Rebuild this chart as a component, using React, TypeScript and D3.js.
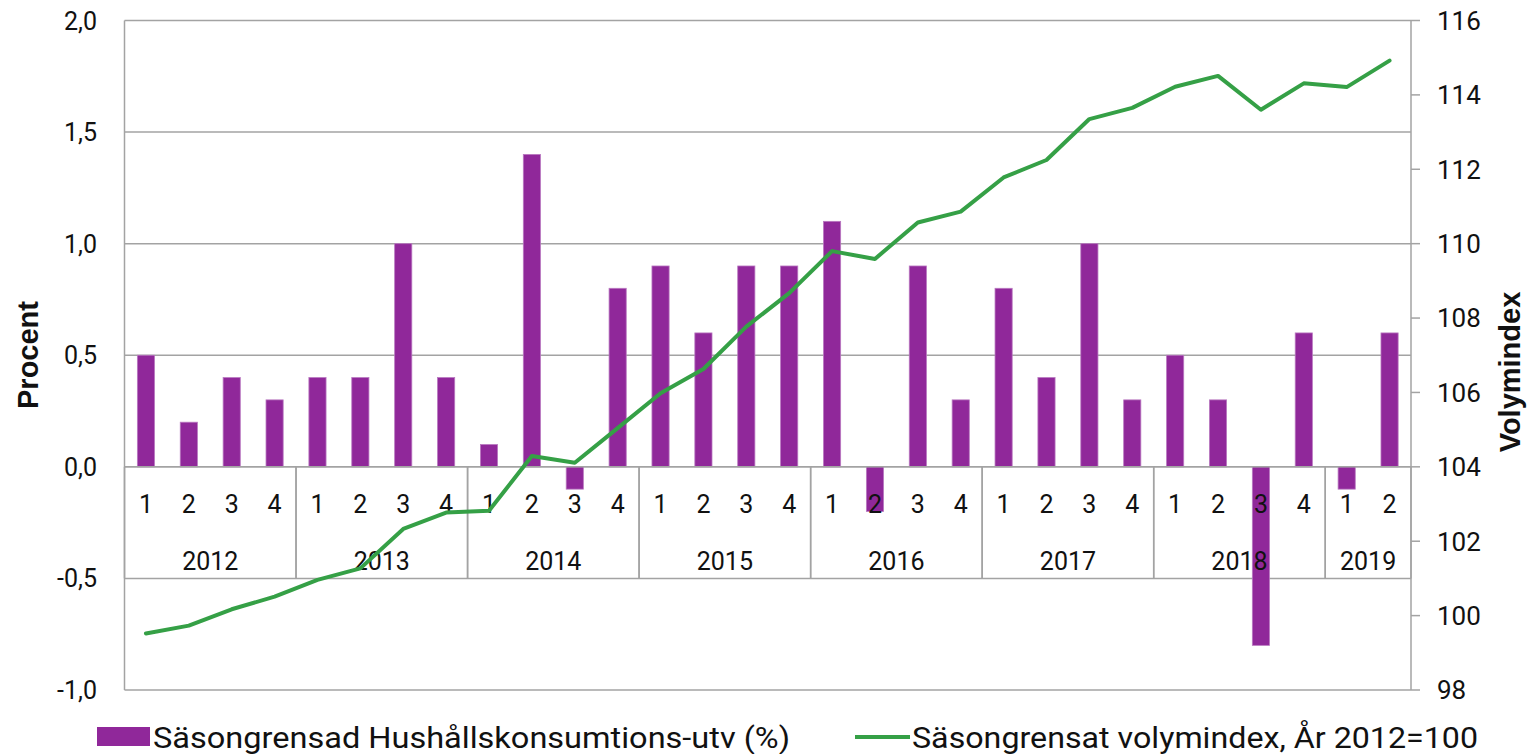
import React from "react";
import * as d3 from "d3";

const categoryYears = [
  "2012","2012","2012","2012",
  "2013","2013","2013","2013",
  "2014","2014","2014","2014",
  "2015","2015","2015","2015",
  "2016","2016","2016","2016",
  "2017","2017","2017","2017",
  "2018","2018","2018","2018",
  "2019","2019",
];
const categoryQuarters = [
  "1","2","3","4","1","2","3","4","1","2","3","4","1","2","3","4",
  "1","2","3","4","1","2","3","4","1","2","3","4","1","2",
];
const consumptionGrowth = [
  0.5, 0.2, 0.4, 0.3, 0.4, 0.4, 1.0, 0.4, 0.1, 1.4, -0.1, 0.8, 0.9, 0.6, 0.9,
  0.9, 1.1, -0.2, 0.9, 0.3, 0.8, 0.4, 1.0, 0.3, 0.5, 0.3, -0.8, 0.6, -0.1, 0.6,
];
const volumeIndex = [
  99.52, 99.73, 100.17, 100.51, 100.96, 101.27, 102.33, 102.77, 102.82, 104.29,
  104.11, 105.04, 105.98, 106.63, 107.77, 108.67, 109.8, 109.59, 110.57, 110.86,
  111.78, 112.25, 113.35, 113.65, 114.22, 114.51, 113.6, 114.31, 114.21, 114.92,
];
const leftTicks = [-1.0, -0.5, 0.0, 0.5, 1.0, 1.5, 2.0];
const rightTicks = [98, 100, 102, 104, 106, 108, 110, 112, 114, 116];
const barLabel = "Säsongrensad Hushållskonsumtions-utv (%)";
const lineLabel = "Säsongrensat volymindex, År 2012=100";

const W = 1530;
const H = 754;
const L = 124.5;
const R = 1411;
const T = 20.5;
const B = 690;
const PURPLE = "#90289A";
const GREEN = "#35A046";
const GRID = "#A3A3A3";
const FONT = "Roboto, 'Noto Sans', sans-serif";

export default function App() {
  const idx = categoryQuarters.map((_, i) => i);
  const x = d3.scaleBand<number>().domain(idx).range([L, R]).padding(0);
  const bw = x.bandwidth();
  const barW = bw * 0.4;
  const yL = d3.scaleLinear().domain([-1, 2]).range([B, T]);
  const yR = d3.scaleLinear().domain([98, 116]).range([B, T]);
  const cx = (i: number) => (x(i) as number) + bw / 2;
  const y0 = yL(0);
  const yRowEnd = yL(-0.5);

  const years = Array.from(new Set(categoryYears));
  const yearGroups = years.map((yr) => {
    const ids = idx.filter((i) => categoryYears[i] === yr);
    return {
      yr,
      start: x(ids[0]) as number,
      end: (x(ids[ids.length - 1]) as number) + bw,
    };
  });

  const line = d3
    .line<number>()
    .x((_, i) => cx(i))
    .y((d) => yR(d));

  const fmt = (v: number) => v.toFixed(1).replace(".", ",");

  return (
    <svg
      width={W}
      height={H}
      style={{ position: "absolute", left: 0, top: 0, display: "block", background: "#fff" }}
      fontFamily={FONT}
    >
      {/* gridlines */}
      {leftTicks.map((t) => (
        <line key={"g" + t} x1={L} x2={R} y1={yL(t)} y2={yL(t)} stroke={GRID} strokeWidth={1.5} />
      ))}
      {/* axes */}
      <line x1={L} x2={L} y1={T} y2={B} stroke={GRID} strokeWidth={1.5} />
      <line x1={R} x2={R} y1={T} y2={B} stroke={GRID} strokeWidth={1.5} />
      {rightTicks.map((t) => (
        <line key={"rt" + t} x1={R} x2={R + 9} y1={yR(t)} y2={yR(t)} stroke={GRID} strokeWidth={1.5} />
      ))}
      {/* bars */}
      {consumptionGrowth.map((v, i) => (
        <rect
          key={"b" + i}
          x={cx(i) - barW / 2}
          y={Math.min(yL(v), y0)}
          width={barW}
          height={Math.abs(yL(v) - y0)}
          fill={PURPLE}
          stroke="#B978C0"
          strokeWidth={0.8}
        />
      ))}
      {/* category axis */}
      <line x1={L} x2={R} y1={y0} y2={y0} stroke={GRID} strokeWidth={1.5} />
      {yearGroups.map((g) => (
        <g key={"yg" + g.yr}>
          <line x1={g.start} x2={g.start} y1={y0} y2={yRowEnd} stroke={GRID} strokeWidth={1.5} />
          <line x1={g.end} x2={g.end} y1={y0} y2={yRowEnd} stroke={GRID} strokeWidth={1.5} />
          <text
            x={(g.start + g.end) / 2}
            y={561}
            dy="0.36em"
            textAnchor="middle"
            fontSize={25}
            fill="#111"
          >
            {g.yr}
          </text>
        </g>
      ))}
      {categoryQuarters.map((q, i) => (
        <text key={"q" + i} x={cx(i)} y={504} dy="0.36em" textAnchor="middle" fontSize={25} fill="#111">
          {q}
        </text>
      ))}
      {/* line */}
      <path d={line(volumeIndex) || ""} fill="none" stroke={GREEN} strokeWidth={4} strokeLinejoin="round" strokeLinecap="round" />
      {/* left tick labels */}
      {leftTicks.map((t) => (
        <text key={"lt" + t} x={97} y={yL(t)} dy="0.36em" textAnchor="end" fontSize={25} fill="#111">
          {fmt(t)}
        </text>
      ))}
      {rightTicks.map((t) => (
        <text key={"rl" + t} x={1437} y={yR(t)} dy="0.36em" textAnchor="start" fontSize={26} fill="#111">
          {t}
        </text>
      ))}
      {/* axis titles */}
      <text
        transform={`translate(28,355) rotate(-90)`}
        dy="0.36em"
        textAnchor="middle"
        fontSize={29}
        fontWeight="bold"
        fontFamily="'Liberation Sans', Arial, sans-serif"
        fill="#111"
      >
        Procent
      </text>
      <text
        transform={`translate(1510,372) rotate(-90)`}
        dy="0.36em"
        textAnchor="middle"
        fontSize={29}
        fontWeight="bold"
        fontFamily="'Liberation Sans', Arial, sans-serif"
        fill="#111"
      >
        Volymindex
      </text>
      {/* legend */}
      <rect x={97} y={727} width={53} height={19} fill={PURPLE} />
      <text x={153} y={748} fontSize={30} fill="#111" textLength={637} lengthAdjust="spacingAndGlyphs">
        {barLabel}
      </text>
      <line x1={855} x2={910} y1={737} y2={737} stroke={GREEN} strokeWidth={4} />
      <text x={912} y={748} fontSize={30} fill="#111" textLength={566} lengthAdjust="spacingAndGlyphs">
        {lineLabel}
      </text>
    </svg>
  );
}
